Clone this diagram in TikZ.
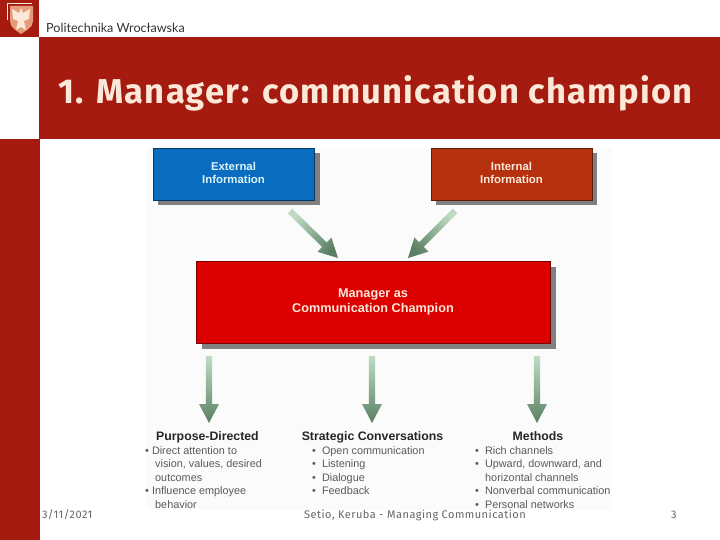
\documentclass[tikz,border=0pt]{standalone}
\usepackage{fontspec}
\setmainfont{Liberation Sans}
\newfontfamily\titlefont[LetterSpace=3.7]{Fira Sans}
\newfontfamily\footfont[LetterSpace=4.4]{Fira Sans}
\newfontfamily\logofont{Lato}
\usetikzlibrary{calc}
\definecolor{brick}{HTML}{A51B0F}
\definecolor{cream}{HTML}{FCE8D8}
\definecolor{salmon}{HTML}{E59A78}
\definecolor{arrowdark}{HTML}{5A8063}
\definecolor{arrowlight}{HTML}{BFDCC3}
\definecolor{bodygray}{HTML}{5A5A5A}
\definecolor{footgray}{HTML}{666666}
\definecolor{extblue}{HTML}{0A6CBE}
\definecolor{intred}{HTML}{B5300F}
\definecolor{mgrred}{HTML}{DC0000}
\tikzset{
  x=1pt,y=-1pt,
  infobox/.style={draw=#1!55!black,fill=#1,line width=0.7pt,inner sep=0pt,font=\fontsize{11.4}{13}\selectfont\bfseries},
  shadowbox/.style={fill=black!50,draw=none},
  headlabel/.style={font=\fontsize{12.3}{14}\selectfont\bfseries,text=black!85,inner sep=0pt,anchor=base},
  listing/.style={font=\fontsize{10.85}{13.5}\selectfont,text=bodygray,inner sep=0pt,anchor=north west,align=left},
  footlabel/.style={font=\fontsize{11}{13}\footfont,text=footgray,inner sep=0pt,anchor=base west},
}
\newcommand{\boxlines}[2]{\raisebox{1.7pt}{\begin{tabular}{@{}c@{}}#1\\#2\end{tabular}}}
% block arrow from #1 to #2; #3 = shading angle
\newcommand{\blockarrow}[3]{%
  \shade[bottom color=arrowdark,top color=arrowlight,shading angle=#3]
    ($(#1)!3.2pt!90:(#2)$) --
    ($(#2)!19pt!(#1)!3.2pt!-90:(#1)$) --
    ($(#2)!19pt!(#1)!10pt!-90:(#1)$) --
    (#2) --
    ($(#2)!19pt!(#1)!10pt!90:(#1)$) --
    ($(#2)!19pt!(#1)!3.2pt!90:(#1)$) --
    ($(#1)!3.2pt!-90:(#2)$) -- cycle;}
\begin{document}
\begin{tikzpicture}
\useasboundingbox (0,0) rectangle (720,540);
\fill[white] (0,0) rectangle (720,540);
% slide frame
\fill[brick] (0,0) rectangle (39,37);
\fill[brick] (39,37) rectangle (720,139);
\fill[brick] (0,139) rectangle (40,540);
% crest
\draw[cream,line width=0.8pt] (32,3) -- (7,3) -- (7,20);
\fill[salmon] (10,6) -- (33,6) -- (33,21) .. controls (33,28) and (25,31) .. (21,34) .. controls (17,31) and (10,28) .. (10,21) -- cycle;
\fill[cream] (21,8) -- (23,13) -- (30,9) -- (29,19) -- (24,21) -- (26,30) -- (21,27) -- (16,30) -- (18,21) -- (13,19) -- (12,9) -- (19,13) -- cycle;
\node[inner sep=0pt,anchor=base west,font=\fontsize{12.6}{14}\logofont,text=black!80] (logotext) at (46,33) {Politechnika Wrocławska};
\node[inner sep=0pt,anchor=base west,font=\fontsize{34.5}{36}\titlefont\bfseries,text=cream] (title) at (58,104) {1. Manager: communication champion};
% figure panel
\fill[black!1.5] (147,148) rectangle (612,510);
% shadows
\fill[shadowbox] (158,153) rectangle (319.5,205);
\fill[shadowbox] (436,153) rectangle (597,205);
\fill[shadowbox] (202,267) rectangle (556,349);
% boxes
\node[infobox=extblue,text=cyan!15,minimum width=161pt,minimum height=52pt] (ext) at (233.5,174) {\boxlines{External}{Information}};
\node[infobox=intred,text=cream,minimum width=161pt,minimum height=52pt] (int) at (511.5,174) {\boxlines{Internal}{Information}};
\node[infobox=mgrred,text=cream,minimum width=354pt,minimum height=82pt,font=\fontsize{12.7}{15.5}\selectfont\bfseries] (mgr) at (373,302) {\boxlines{Manager as}{Communication Champion}};
% arrow ends
\coordinate (a1s) at (290,211); \coordinate (a1t) at (338,258);
\coordinate (a2s) at (455,211); \coordinate (a2t) at (408,258);
\coordinate (d1s) at (209,356); \coordinate (d1t) at (209,423);
\coordinate (d2s) at (372,356); \coordinate (d2t) at (372,423);
\coordinate (d3s) at (537,356); \coordinate (d3t) at (537,423);
\blockarrow{a1s}{a1t}{45}
\blockarrow{a2s}{a2t}{-45}
\blockarrow{d1s}{d1t}{0}
\blockarrow{d2s}{d2t}{0}
\blockarrow{d3s}{d3t}{0}
% columns
\node[headlabel] (h1) at (207.5,440) {Purpose-Directed};
\node[headlabel] (h2) at (372.5,440) {Strategic Conversations};
\node[headlabel] (h3) at (538,440) {Methods};
\node[listing] (l1) at (145,446) {\textbullet\ Direct attention to\\\hspace{10pt}vision, values, desired\\\hspace{10pt}outcomes\\\textbullet\ Influence employee\\\hspace{10pt}behavior};
\node[listing] (l2) at (312,446) {\textbullet\ \ Open communication\\\textbullet\ \ Listening\\\textbullet\ \ Dialogue\\\textbullet\ \ Feedback};
\node[listing] (l3) at (475,446) {\textbullet\ \ Rich channels\\\textbullet\ \ Upward, downward, and\\\hspace{10pt}horizontal channels\\\textbullet\ \ Nonverbal communication\\\textbullet\ \ Personal networks};
% footer
\node[footlabel] (date) at (42,518) {3/11/2021};
\node[footlabel] (src) at (304,518) {Setio, Keruba - Managing Communication};
\node[footlabel] (num) at (671,518) {3};
\end{tikzpicture}
\end{document}
